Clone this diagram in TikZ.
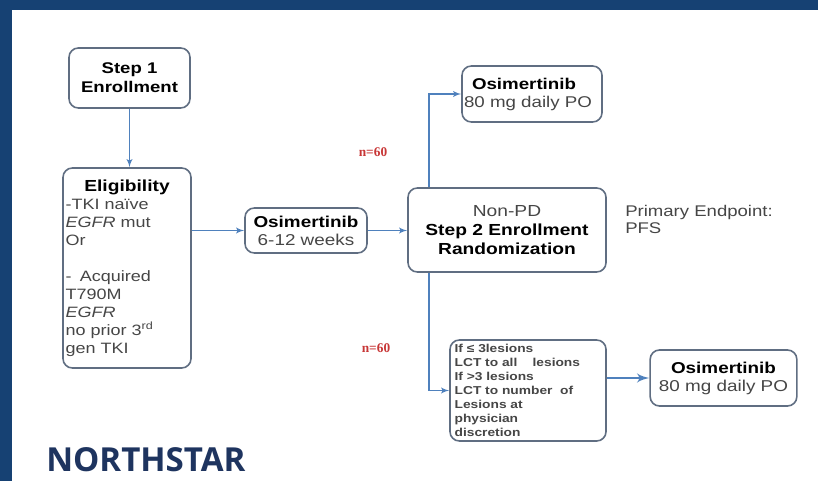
\documentclass[tikz,border=0pt]{standalone}
\usepackage{fontspec}
\setmainfont{Liberation Sans}[FakeStretch=1.2]
\newfontfamily\titlefont{Open Sans}
\newfontfamily\redfont{Liberation Serif}
\usetikzlibrary{arrows,positioning,calc}

\definecolor{frameblue}{RGB}{22,65,115}
\definecolor{arrowblue}{RGB}{79,129,189}
\definecolor{boxgray}{RGB}{96,110,130}
\definecolor{textgray}{RGB}{70,70,70}
\definecolor{nred}{RGB}{200,55,55}
\definecolor{navy}{RGB}{30,52,95}

\tikzset{
	stepbox/.style={draw=boxgray, line width=1.2pt, rounded corners=7pt, fill=white, inner sep=1.5pt},
	flow/.style={-latex', draw=arrowblue, line width=1.1pt},
	nlabel/.style={text=nred, font=\redfont\bfseries\fontsize{10}{11}\selectfont}
}

\begin{document}
\begin{tikzpicture}[x=0.75pt, y=-0.75pt]
		\useasboundingbox (0,0) rectangle (818,481);
		\fill[white] (0,0) rectangle (818,481);
		\fill[frameblue] (0,0) rectangle (818,10);
		\fill[frameblue] (0,0) rectangle (12,481);

		\node[stepbox, minimum width=90.75pt, minimum height=45pt, align=center, font=\bfseries\fontsize{11.6}{14.25}\selectfont] (S1) at (129.5,78) {Step 1\\Enrollment};
		\node[stepbox, minimum width=96pt, minimum height=150pt, text width=92pt, align=left, font=\fontsize{11.25}{13.5}\selectfont, text=textgray] (EL) at (127,268) {\makebox[92pt]{\textcolor{black}{\bfseries\fontsize{12}{13.5}\selectfont Eligibility}}\\-TKI na\"ive\\\textit{EGFR} mut\\Or\\[13.5pt]-\hspace{0.55em}Acquired\\T790M\\\textit{EGFR}\\no prior 3\textsuperscript{rd}\\gen TKI};
		\node[stepbox, minimum width=91.5pt, minimum height=33.75pt, align=center, font=\fontsize{11.8}{13.5}\selectfont, text=textgray] (O1) at (306,230.5) {\textcolor{black}{\bfseries Osimertinib}\\6-12 weeks};
		\node[stepbox, minimum width=148.5pt, minimum height=63pt, align=center, font=\fontsize{12}{14.25}\selectfont] (S2) at (507,230) {\textcolor{textgray}{Non-PD}\\\textbf{Step 2 Enrollment}\\\textbf{Randomization}};
		\node[stepbox, minimum width=105pt, minimum height=42pt, text width=102pt, align=left, font=\fontsize{11.7}{13.5}\selectfont, text=textgray] (OT) at (532,94) {\hspace*{6pt}\textcolor{black}{\bfseries Osimertinib}\\80 mg daily PO};
		\node[stepbox, minimum width=117pt, minimum height=75.75pt, text width=110pt, align=left, font=\bfseries\fontsize{8.6}{10.5}\selectfont, text=textgray] (LC) at (528,390.5) {If ≤ 3lesions\\LCT to all\ \ \ \ lesions\\If >3 lesions\\LCT to number\ \ of\\Lesions at\\physician\\discretion};
		\node[stepbox, minimum width=110pt, minimum height=42pt, align=center, font=\fontsize{11.8}{13.5}\selectfont, text=textgray] (OB) at (723.5,378) {\textcolor{black}{\bfseries Osimertinib}\\80 mg daily PO};

		\node[anchor=north west, align=left, text=textgray, font=\fontsize{11.6}{13}\selectfont, inner sep=0pt] (PE) at (625,205) {Primary Endpoint:\\PFS};
		\node[nlabel] (N1) at (373,152) {n=60};
		\node[nlabel] (N2) at (376,348) {n=60};
		\node[anchor=base west, inner sep=0pt, text=navy, font=\titlefont\bfseries\fontsize{24.8}{28}\selectfont] (NS) at (46,471) {NORTHSTAR};

		\draw[flow] (S1) -- (S1 |- EL.north);
		\draw[flow] (EL.east |- O1) -- (O1);
		\draw[flow] (O1) -- (S2.west |- O1);
		\draw[flow] ([xshift=16.5pt]S2.north west) |- (OT.west);
		\draw[flow] ([xshift=16.5pt]S2.south west) |- (LC.west);
		\draw[-latex', draw=arrowblue, line width=2.2pt] (LC.east |- OB) -- (OB);
	\end{tikzpicture}
\end{document}
